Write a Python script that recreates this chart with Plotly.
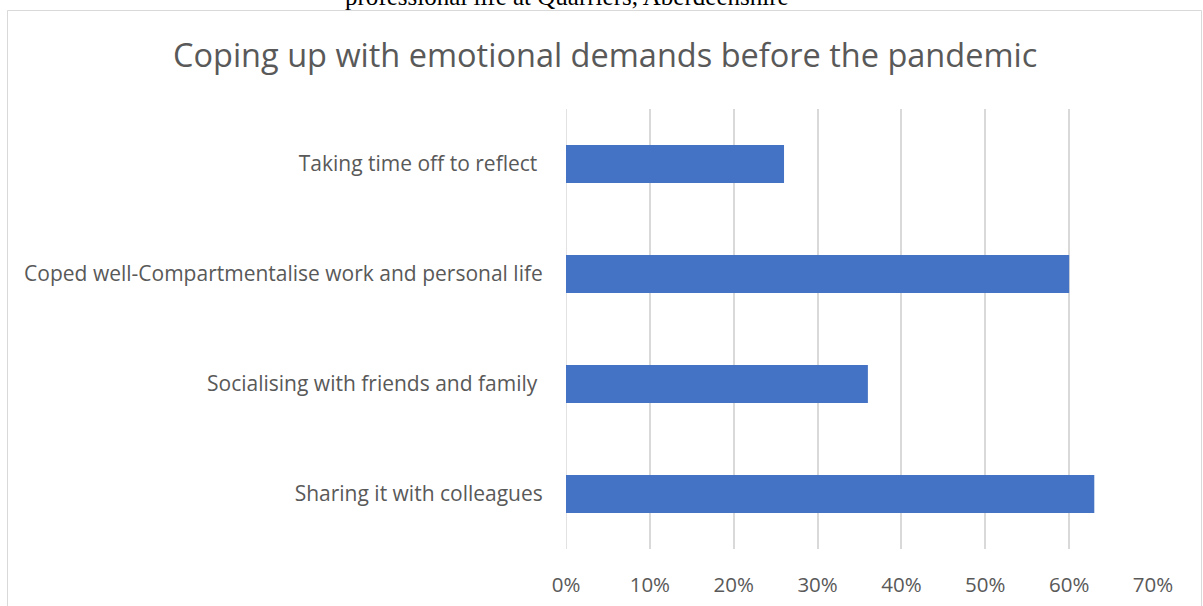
import plotly.graph_objects as go

# Coping strategies and share of respondents (fraction)
categories = [
    "Sharing it with colleagues",
    "Socialising with friends and family ",
    "Coped well-Compartmentalise work and personal life",
    "Taking time off to reflect ",
]
shares = [0.63, 0.36, 0.60, 0.26]
tick_values = [0, 0.1, 0.2, 0.3, 0.4, 0.5, 0.6, 0.7]
tick_labels = ["0%", "10%", "20%", "30%", "40%", "50%", "60%", "70%"]

title_text = "Coping up with emotional demands before the pandemic"
caption_text = "professional life at Quarriers, Aberdeenshire"

W, H = 1203, 606
L, R, T, B = 566, 50, 109, 57
pw, ph = W - L - R, H - T - B


def px_x(px):
    return (px - L) / pw


def px_y(py):
    return (H - B - py) / ph


fig = go.Figure(
    go.Bar(
        x=shares,
        y=categories,
        orientation="h",
        marker=dict(color="#4472C4", line=dict(width=0)),
        width=0.345,
    )
)

fig.update_layout(
    width=W,
    height=H,
    margin=dict(l=L, r=R, t=T, b=B, autoexpand=False),
    paper_bgcolor="white",
    plot_bgcolor="white",
    showlegend=False,
    font=dict(family="Open Sans", color="#595959", size=20),
    xaxis=dict(
        range=[0, 0.7],
        tickvals=tick_values,
        ticktext=tick_labels,
        showgrid=True,
        gridcolor="#D9D9D9",
        gridwidth=1.5,
        zeroline=False,
        showline=False,
        ticks="outside",
        ticklen=17,
        tickcolor="rgba(0,0,0,0)",
        tickfont=dict(size=20.5, color="#595959"),
        fixedrange=True,
    ),
    yaxis=dict(
        categoryorder="array",
        categoryarray=categories,
        showgrid=False,
        zeroline=False,
        showline=False,
        ticks="outside",
        ticklen=18,
        tickcolor="rgba(0,0,0,0)",
        tickfont=dict(size=21, color="#595959"),
        fixedrange=True,
    ),
    shapes=[
        # outer chart frame
        dict(
            type="rect",
            xref="paper",
            yref="paper",
            x0=px_x(7.5),
            x1=px_x(1201.5),
            y0=px_y(620),
            y1=px_y(10.5),
            line=dict(color="#D9D9D9", width=1),
            fillcolor="rgba(0,0,0,0)",
            layer="below",
        ),
        # 0% baseline
        dict(
            type="line",
            xref="x",
            yref="paper",
            x0=0,
            x1=0,
            y0=0,
            y1=1,
            line=dict(color="#D9D9D9", width=1.5),
            layer="below",
        ),
    ],
    annotations=[
        dict(
            text=title_text,
            xref="paper",
            yref="paper",
            x=px_x(605),
            y=px_y(55),
            xanchor="center",
            yanchor="middle",
            showarrow=False,
            font=dict(family="Open Sans", size=32.5, color="#595959"),
        ),
        dict(
            text=caption_text,
            xref="paper",
            yref="paper",
            x=px_x(567),
            y=px_y(-4),
            xanchor="center",
            yanchor="middle",
            showarrow=False,
            font=dict(family="Liberation Serif", size=25, color="black"),
        ),
    ],
)

fig.write_html("out.html")
